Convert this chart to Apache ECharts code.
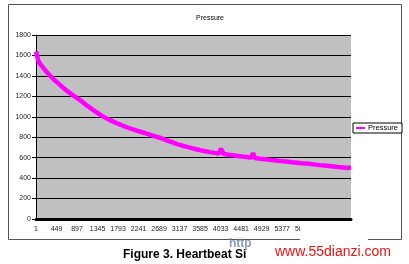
<!DOCTYPE html>
<html>
<head>
<meta charset="utf-8">
<script src="https://cdn.jsdelivr.net/npm/echarts@6/dist/echarts.min.js"></script>
<style>
html,body{margin:0;padding:0;background:#fff;}
#c{width:409px;height:264px;}
</style>
</head>
<body>
<div id="c"></div>
<script>
// ---- data ----
const sampleCount = 6880;               // number of recorded samples (x categories)
const categories = [];                  // x tick labels are the sample numbers 1..N
for (let i = 0; i < sampleCount; i++) categories.push(String(i + 1));
const labelStep = 448;                  // 1, 449, 897, ...
const sampleIndex = [0, 50, 100, 200, 300, 400, 500, 600, 700, 800, 900, 1000, 1100, 1200, 1300,
  1400, 1500, 1600, 1700, 1800, 1900, 2000, 2100, 2200, 2300, 2400, 2500, 2600, 2700, 2800, 2900,
  3000, 3100, 3200, 3300, 3400, 3500, 3600, 3700, 3800, 3900, 4000, 4040, 4100, 4200, 4300, 4400,
  4500, 4600, 4700, 4740, 4780, 4800, 4900, 5000, 5100, 5200, 5300, 5400, 5500, 5600, 5700, 5800,
  5900, 6000, 6100, 6200, 6300, 6400, 6500, 6600, 6700, 6800, 6879];
const pressure = [1640, 1548, 1510, 1456, 1406, 1360, 1322, 1282, 1246, 1212, 1182, 1150, 1114, 1082,
  1050, 1020, 994, 970, 950, 930, 912, 895, 880, 865, 851, 837, 823, 809, 795, 779, 762,
  746, 731, 717, 705, 693, 682, 671, 662, 654, 647, 641, 688, 635, 629, 623, 617,
  611, 606, 600, 646, 596, 594, 589, 584, 579, 574, 569, 565, 560, 555, 551, 546,
  542, 537, 532, 527, 523, 518, 513, 508, 504, 499, 506];
const seriesName = 'Pressure';
const yTicks = [0, 200, 400, 600, 800, 1000, 1200, 1400, 1600, 1800];

const FONT = 'Liberation Sans, Arial, sans-serif';
const chart = echarts.init(document.getElementById('c'), null, {renderer: 'canvas'});
chart.setOption({
  animation: false,
  backgroundColor: '#ffffff',
  title: {
    text: 'Pressure', left: 205, top: 10, textAlign: 'center',
    textStyle: {fontFamily: FONT, fontSize: 7, fontWeight: 'normal', color: '#000'}
  },
  legend: {
    left: 353, top: 123, orient: 'vertical',
    data: [seriesName],
    backgroundColor: '#fff', borderColor: '#000', borderWidth: 1,
    padding: [1, 4, 1, 3], itemWidth: 9, itemHeight: 2, itemGap: 0,
    icon: 'rect',
    textStyle: {fontFamily: FONT, fontSize: 7.5, color: '#000', padding: [0, 0, 0, -2]}
  },
  grid: {left: 36, right: 58, top: 35, bottom: 45, show: true, backgroundColor: '#c0c0c0', borderWidth: 0},
  xAxis: {
    type: 'category', data: categories, boundaryGap: true,
    axisLine: {lineStyle: {color: '#000', width: 3}},
    axisTick: {show: false},
    axisLabel: {interval: labelStep - 1, fontFamily: FONT, fontSize: 7, color: '#222', margin: 7, showMaxLabel: false},
    splitLine: {show: false}
  },
  yAxis: {
    type: 'value', min: yTicks[0], max: yTicks[yTicks.length - 1], interval: 200,
    axisLine: {show: true, lineStyle: {color: '#000', width: 1}},
    axisTick: {show: true, length: 4, lineStyle: {color: '#000'}},
    axisLabel: {fontFamily: FONT, fontSize: 7, color: '#222', margin: 5, formatter: v => String(v)},
    splitLine: {show: true, lineStyle: {color: '#000', width: 1}}
  },
  series: [{
    name: seriesName, type: 'line',
    data: sampleIndex.map((x, i) => [x, pressure[i]]),
    showSymbol: false, symbol: 'rect', symbolSize: 3,
    itemStyle: {color: '#ff00ff'},
    lineStyle: {color: '#ff00ff', width: 4.5},
    z: 3
  }],
  graphic: [
    {type: 'rect', shape: {x: 8.5, y: 4.5, width: 393, height: 235}, style: {fill: 'none', stroke: '#555', lineWidth: 1}, z: -1, silent: true},
    {type: 'text', left: 123, top: 249, style: {text: 'Figure 3. Heartbeat Signal', font: 'bold 12px ' + FONT, fill: '#000'}, z: 10},
    {type: 'rect', shape: {x: 300, y: 223, width: 68, height: 18}, style: {fill: '#fff'}, z: 20},
    {type: 'rect', shape: {x: 246, y: 243, width: 163, height: 21}, style: {fill: '#fff'}, z: 20},
    {type: 'text', left: 229, top: 238, style: {text: 'http', font: 'bold 12px ' + FONT, fill: 'rgba(110,130,170,0.8)'}, z: 21},
    {type: 'text', left: 275, top: 245, style: {text: 'www.55dianzi.com', font: '14px ' + FONT, fill: '#ee1111'}, z: 21}
  ]
});
</script>
</body>
</html>
